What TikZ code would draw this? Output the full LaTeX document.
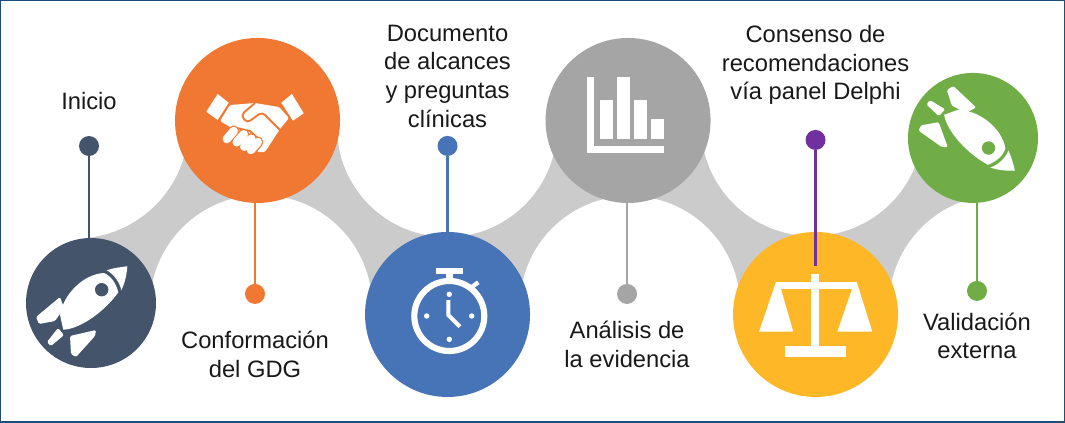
\documentclass[tikz,border=0pt]{standalone}
\usepackage{fontspec}
\setmainfont{Liberation Sans}
\usetikzlibrary{positioning,backgrounds}
\definecolor{cslate}{HTML}{44546A}
\definecolor{corange}{HTML}{F07832}
\definecolor{cblue}{HTML}{4674B6}
\definecolor{cgrey}{HTML}{A5A5A5}
\definecolor{cyellow}{HTML}{FDB727}
\definecolor{cgreen}{HTML}{70AD47}
\definecolor{cpurple}{HTML}{7030A0}
\definecolor{cband}{HTML}{CCCBCC}
\definecolor{cframe}{HTML}{1F4E79}
\tikzset{
  pics/rocket/.style={code={
    \fill[white] (13,-30) .. controls (-8,-29) and (-28,-8) .. (-31,12) -- (-27.7,26.7) .. controls (-10,26) and (15,7) .. (27.3,-10.7) .. controls (25,-20) and (20,-27) .. (13,-30) -- cycle;
    \fill[white] (15.7,-32.7) .. controls (22,-35) and (30,-36) .. (36.3,-36.7) .. controls (36,-30) and (34,-20) .. (30.3,-12.7) .. controls (29,-20) and (23,-29) .. (15.7,-32.7) -- cycle;
    \fill[#1] (10.7,-13.3) circle (6.7);
    \fill[white,rounded corners=1pt] (-31,-6) -- (-27,5) -- (-36,18) -- (-52,21) -- (-55,14) -- cycle;
    \fill[white,rounded corners=1pt] (5,27) -- (4,33) -- (-15,54) -- (-20,51) -- (-21,33) -- cycle;
    \fill[white,rounded corners=1pt] (-33,25) -- (-27,32) -- (-40,43) -- (-44,39) -- cycle;
  }}
}
\begin{document}
\begin{tikzpicture}[x=0.75pt,y=-0.75pt,
    hole/.style={circle, fill=white, inner sep=0pt, minimum size=#1*0.75pt},
    stepbig/.style={circle, fill=#1, inner sep=0pt, minimum size=123.75pt, on grid},
    stepsmall/.style={circle, fill=#1, inner sep=0pt, minimum size=97.5pt, on grid},
    dot/.style={circle, fill=#1, inner sep=0pt, minimum size=15pt, on grid},
    stem/.style={line width=1.8pt, #1},
    lbl/.style={align=center, inner sep=0pt, font=\fontsize{17.8}{21.5}\selectfont, text=black!90}]
    \useasboundingbox (0,0) rectangle (1065,422);

    %% White circles that cut the band
    \node[hole=227] (h1) at (75,125) {};
    \node[hole=222] (h2) at (261,306) {};
    \node[hole=220] (h3) at (447,127) {};
    \node[hole=220] (h4) at (630,306) {};
    \node[hole=222] (h5) at (812,125) {};
    \node[hole=222] (h6) at (1000,306) {};

    %% Steps
    \node[stepsmall=cslate] (inicio) at (91,303) {};
    \node[stepbig=corange, above right=136.9pt and 124.9pt of inicio] (gdg) {};
    \node[stepbig=cblue, below right=145.5pt and 142.5pt of gdg] (alcances) {};
    \node[stepbig=cgrey, above right=145.5pt and 135.4pt of alcances] (analisis) {};
    \node[stepbig=cyellow, below right=145.5pt and 140.6pt of analisis] (delphi) {};
    \node[stepsmall=cgreen, above right=132.4pt and 118.1pt of delphi] (validacion) {};

    %% Grey band
    \begin{scope}[on background layer]
        \fill[cband] (inicio.center) -- (h1.center) -- (gdg.center) -- (h3.center) -- (analisis.center) -- (h5.center) -- (validacion.center)
            -- (h6.center) -- (delphi.center) -- (h4.center) -- (alcances.center) -- (h2.center) -- cycle;
    \end{scope}

    %% Dots
    \node[dot=cslate, above left=117.75pt and 1.5pt of inicio] (d1) {};
    \node[dot=corange, below left=130.1pt and 1.9pt of gdg] (d2) {};
    \node[dot=cblue, above=126.4pt of alcances] (d3) {};
    \node[dot=cgrey, below left=130.1pt and 0.75pt of analisis] (d4) {};
    \node[dot=cpurple, above=130.9pt of delphi] (d5) {};
    \node[dot=cgreen, below right=114.75pt and 3pt of validacion] (d6) {};
    \coordinate[below=87pt of d5] (d5end);

    %% Stems
    \draw[stem=cslate] (d1) -- (d1 |- inicio.north);
    \draw[stem=corange] (d2) -- (d2 |- gdg.south);
    \draw[line width=2.2pt, cblue] (d3) -- (d3 |- alcances.north);
    \draw[stem=cgrey] (d4) -- (d4 |- analisis.south);
    \draw[stem=cpurple] (d5) -- (d5end);
    \draw[stem=cgreen] (d6) -- (d6 |- validacion.south);

    %% Labels
    \node[lbl, above=19.3pt of d1] (l1) {Inicio};
    \node[lbl, below=20pt of d2] (l2) {Conformación\\del GDG};
    \node[lbl, above=6pt of d3] (l3) {Documento\\de alcances\\y preguntas\\clínicas};
    \node[lbl, below=12.5pt of d4] (l4) {Análisis de\\la evidencia};
    \node[lbl, above=18.5pt of d5] (l5) {Consenso de\\recomendaciones\\vía panel Delphi};
    \node[lbl, below=8.5pt of d6] (l6) {Validación\\externa};

    %% Rocket icons
    \pic at (inicio) {rocket=cslate};
    \pic[rotate=-83] at (974,139) {rocket=cgreen};

    %% Handshake
    \fill[white] (217.7,94) -- (228.7,102.7) -- (217.7,120) -- (206.3,111.7) -- cycle;
    \fill[white] (292,94) -- (303.7,113.3) -- (293,120.7) -- (281.3,102.7) -- cycle;
    \fill[white,rounded corners=1pt] (230,105) -- (255,103) -- (279,107) -- (289,118) -- (280,129) -- (265,152) -- (258,152) -- (232,128) -- (220,121) -- cycle;
    \draw[corange, line width=1.4pt, line cap=round, rounded corners=3pt] (255,103) -- (241,115) -- (247,123) -- (262,112) -- (281,131);
    \draw[corange, line width=1.4pt] (232,127) -- (250,131) -- (262,142);
    \foreach \fx/\fy in {230.3/135, 240.3/138.3, 247.7/142.7, 254.3/146}
        \draw[corange, line width=8.4pt, line cap=round] (\fx-3.5,\fy+4) -- (\fx+3.5,\fy-4);
    \foreach \fx/\fy in {230.3/135, 240.3/138.3, 247.7/142.7, 254.3/146}
        \draw[white, line width=6.4pt, line cap=round] (\fx-3.5,\fy+4) -- (\fx+3.5,\fy-4);

    %% Stopwatch
    \draw[white, line width=4.6pt] (449.3,316) circle (35);
    \fill[white] (435.7,267.7) rectangle (463,274.3);
    \fill[white] (445.7,274) rectangle (453.3,281);
    \draw[white, line width=3.2pt] (470,288.3) -- (478.3,282.3);
    \foreach \tx/\ty in {449.3/294.3, 426.7/316, 471.7/316, 449.3/339.3}
        \fill[white] (\tx,\ty) circle (2.7);
    \draw[white, line width=3pt] (448.3,300) -- (448.3,315) -- (460,326.7);

    %% Bar chart
    \fill[white] (586.7,76.7) rectangle (594.3,153.3);
    \fill[white] (586.7,146) rectangle (664,153.3);
    \fill[white] (600,100) rectangle (613.3,139.3);
    \fill[white] (617.3,76.7) rectangle (630,139.3);
    \fill[white] (634,100) rectangle (646.7,139.3);
    \fill[white] (651,119.3) rectangle (664,139.3);

    %% Scale
    \fill[white] (811,274) rectangle (819,347);
    \fill[white] (785,346) rectangle (846,356.7);
    \fill[white] (776,282.3) rectangle (856.7,289.3);
    \fill[white] (776,282) -- (781,289) -- (793.3,331.7) -- (759,331.7) -- cycle;
    \fill[white] (856.7,282) -- (872.3,331.7) -- (837.3,331.7) -- (852,289) -- cycle;

    %% Frame
    \draw[cframe, line width=2.2pt] (0,0) rectangle (1065,422);
\end{tikzpicture}
\end{document}
